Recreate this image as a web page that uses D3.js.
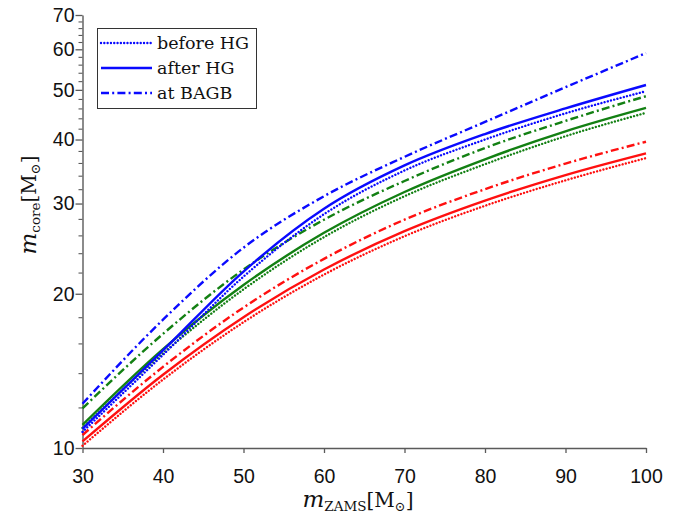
<!DOCTYPE html>
<html>
<head>
<meta charset="utf-8">
<script src="https://cdn.jsdelivr.net/npm/d3@7"></script>
<style>
  body { margin: 0; background: #fff; }
  svg { display: block; }
</style>
</head>
<body>
<svg id="chart" width="688" height="514"></svg>
<script>
// Core mass versus ZAMS mass, three evolutionary stages for three model sets
const zamsMass = [30, 40, 50, 60, 70, 80, 90, 100];

const blueBeforeHG = [10.75, 15.2, 21.6, 28.6, 34.8, 40.0, 45.0, 49.7];
const blueAfterHG  = [10.9, 15.5, 22.1, 29.3, 35.6, 41.0, 46.0, 51.1];
const blueAtBAGB   = [12.2, 17.8, 24.6, 31.0, 37.0, 43.3, 50.6, 59.0];

const greenBeforeHG = [10.95, 15.3, 20.4, 25.8, 31.0, 35.8, 40.6, 45.1];
const greenAfterHG  = [11.1, 15.6, 20.8, 26.3, 31.6, 36.6, 41.5, 46.1];
const greenAtBAGB   = [11.95, 16.7, 22.3, 27.9, 33.2, 38.5, 43.5, 48.6];

const redBeforeHG = [10.1, 13.6, 17.6, 21.8, 25.9, 29.7, 33.3, 36.8];
const redAfterHG  = [10.3, 13.9, 18.0, 22.3, 26.5, 30.4, 34.1, 37.6];
const redAtBAGB   = [10.6, 14.4, 18.8, 23.4, 27.9, 32.0, 35.9, 39.6];

const xTicks = [30, 40, 50, 60, 70, 80, 90, 100];
const yMajorTicks = [10, 20, 30, 40, 50, 60, 70];
const yMinorTicks = [12, 14, 16, 18, 22, 24, 26, 28, 32, 34, 36, 38, 42, 44, 46, 48,
                     52, 54, 56, 58, 62, 64, 66, 68];
const stageLabels = ["before HG", "after HG", "at BAGB"];

// ---- styling ----
const colors = { blue: "#0a0aff", green: "#138013", red: "#ff1010" };
const dashes = {
  "before HG": "0.01 3.3",
  "after HG": null,
  "at BAGB": "8 3.2 2 3.2"
};

const series = [
  { color: colors.red,   stage: "before HG", values: redBeforeHG },
  { color: colors.red,   stage: "after HG",  values: redAfterHG },
  { color: colors.red,   stage: "at BAGB",   values: redAtBAGB },
  { color: colors.green, stage: "before HG", values: greenBeforeHG },
  { color: colors.green, stage: "after HG",  values: greenAfterHG },
  { color: colors.green, stage: "at BAGB",   values: greenAtBAGB },
  { color: colors.blue,  stage: "before HG", values: blueBeforeHG },
  { color: colors.blue,  stage: "after HG",  values: blueAfterHG },
  { color: colors.blue,  stage: "at BAGB",   values: blueAtBAGB }
];

const svg = d3.select("#chart");
const x = d3.scaleLinear().domain([30, 100]).range([82.5, 646]);
const y = d3.scaleLog().domain([10, 70]).range([448, 15]);

const axisColor = "#5a5a5a";
const tickFont = "'Liberation Sans', Arial, sans-serif";
const serif = "'DejaVu Serif', serif";

// x axis
const gx = svg.append("g")
  .attr("transform", `translate(0,${y(10)})`)
  .call(d3.axisBottom(x).tickValues(xTicks).tickSize(5).tickSizeOuter(0).tickPadding(16)
        .tickFormat(d3.format("d")));
gx.select(".domain").attr("stroke", axisColor).attr("stroke-width", 1.4);
gx.selectAll(".tick line").attr("stroke", axisColor).attr("stroke-width", 1.3);
gx.selectAll(".tick text").attr("fill", "#111").style("font", `19.5px ${tickFont}`);

// y axis: minor ticks then labelled majors
const gyMinor = svg.append("g")
  .attr("transform", `translate(${x(30)},0)`)
  .call(d3.axisLeft(y).tickValues(yMinorTicks).tickSize(4).tickSizeOuter(0).tickFormat(""));
gyMinor.select(".domain").remove();
gyMinor.selectAll(".tick line").attr("stroke", axisColor).attr("stroke-width", 1.1);

const gy = svg.append("g")
  .attr("transform", `translate(${x(30)},0)`)
  .call(d3.axisLeft(y).tickValues(yMajorTicks).tickSize(7).tickSizeOuter(0).tickPadding(1)
        .tickFormat(d3.format("d")));
gy.select(".domain").attr("stroke", axisColor).attr("stroke-width", 1.4);
gy.selectAll(".tick line").attr("stroke", axisColor).attr("stroke-width", 1.3);
gy.selectAll(".tick text").attr("fill", "#111").style("font", `19.5px ${tickFont}`);

// curves
const line = d3.line()
  .x((d, i) => x(zamsMass[i]))
  .y(d => y(d))
  .curve(d3.curveMonotoneX);

svg.append("g").selectAll("path")
  .data(series)
  .join("path")
  .attr("d", d => line(d.values))
  .attr("fill", "none")
  .attr("stroke", d => d.color)
  .attr("stroke-width", 2.4)
  .attr("stroke-linecap", d => d.stage === "before HG" ? "round" : "butt")
  .attr("stroke-dasharray", d => dashes[d.stage]);

// legend
const legend = svg.append("g");
legend.append("rect")
  .attr("x", 97.5).attr("y", 28.5).attr("width", 159).attr("height", 80)
  .attr("fill", "#fff").attr("stroke", "#333").attr("stroke-width", 1);
stageLabels.forEach((label, i) => {
  const ly = 43 + i * 25;
  legend.append("line")
    .attr("x1", 101).attr("x2", 152).attr("y1", ly).attr("y2", ly)
    .attr("stroke", colors.blue).attr("stroke-width", 2.4)
    .attr("stroke-linecap", label === "before HG" ? "round" : "butt")
    .attr("stroke-dasharray", dashes[label]);
  legend.append("text")
    .attr("x", 157).attr("y", ly + 6)
    .attr("fill", "#111")
    .style("font", `17.5px ${serif}`)
    .text(label);
});

// axis titles
const xTitle = svg.append("text")
  .attr("x", 358).attr("y", 507)
  .attr("text-anchor", "middle")
  .attr("fill", "#111")
  .style("font-family", serif);
xTitle.append("tspan").style("font-style", "italic").style("font-size", "23px").text("m");
xTitle.append("tspan").attr("dy", 4).style("font-size", "13.5px").text("ZAMS");
xTitle.append("tspan").attr("dy", -4).style("font-size", "20px").text("[M");
xTitle.append("tspan").attr("dy", 4).style("font-size", "13px").text("⊙");
xTitle.append("tspan").attr("dy", -4).style("font-size", "20px").text("]");

const yTitle = svg.append("text")
  .attr("transform", "translate(36,205) rotate(-90)")
  .attr("text-anchor", "middle")
  .attr("fill", "#111")
  .style("font-family", serif);
yTitle.append("tspan").style("font-style", "italic").style("font-size", "23px").text("m");
yTitle.append("tspan").attr("dy", 4).style("font-size", "13.5px").text("core");
yTitle.append("tspan").attr("dy", -4).style("font-size", "20px").text("[M");
yTitle.append("tspan").attr("dy", 4).style("font-size", "13px").text("⊙");
yTitle.append("tspan").attr("dy", -4).style("font-size", "20px").text("]");
</script>
</body>
</html>
